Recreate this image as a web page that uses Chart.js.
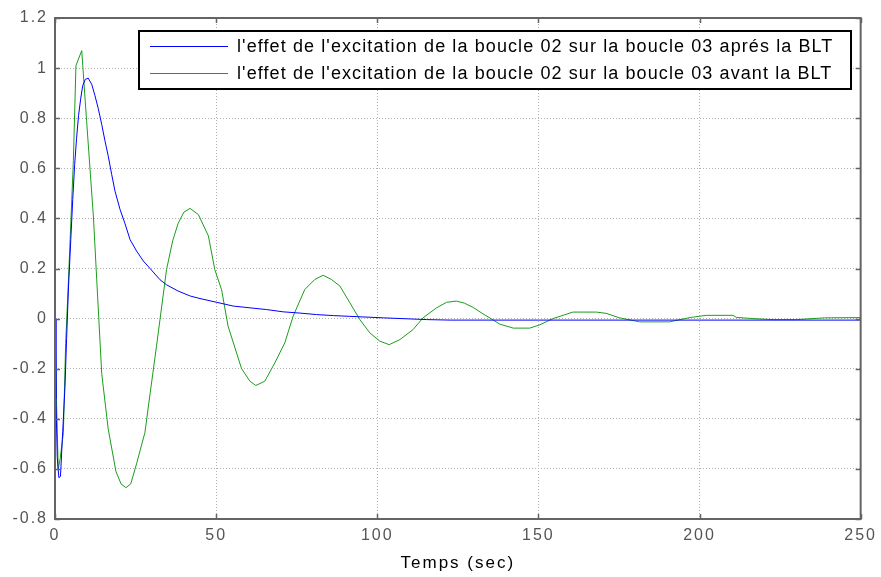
<!DOCTYPE html>
<html>
<head>
<meta charset="utf-8">
<script src="https://cdn.jsdelivr.net/npm/chart.js@4"></script>
<style>
  html, body { margin: 0; padding: 0; background: #fff; }
  #wrap { width: 881px; height: 577px; }
</style>
</head>
<body>
<div id="wrap"><canvas id="resp"></canvas></div>
<script>
// time samples (sec) and responses of loop 03 to the loop 02 excitation
var apresTime = [0, 0.3, 0.7, 1.2, 1.7, 2.4, 3.1, 3.6, 4.2, 4.9, 5.5, 6.1, 6.7, 7.3, 8.0, 8.6, 9.4, 10.3,
  11.4, 12.4, 13.4, 14.5, 15.5, 16.5, 17.6, 18.6, 20.2, 21.7, 23.3, 25.3, 27.4, 29.5, 32.6, 34.6, 38.2,
  42, 45, 50.2, 55.3, 60.5, 65.7, 70.8, 76, 81.2, 86.4, 91.5, 101.9, 115.4, 122.6, 150, 200, 250];
var apresValues = [0, -0.32, -0.555, -0.635, -0.63, -0.45, -0.27, -0.08, 0.13, 0.315, 0.475, 0.615, 0.72, 0.81, 0.88, 0.93, 0.955, 0.96,
  0.935, 0.89, 0.84, 0.775, 0.71, 0.65, 0.575, 0.51, 0.435, 0.38, 0.315, 0.27, 0.23, 0.2, 0.155, 0.135, 0.11,
  0.09, 0.08, 0.065, 0.05, 0.043, 0.036, 0.027, 0.022, 0.016, 0.012, 0.009, 0.003, -0.004, -0.006, -0.006, -0.006, -0.006];

var avantTime = [0, 0.4, 1.0, 1.6, 2.6, 3.3, 4.1, 5.7, 6.5, 8.3, 9.8, 11.9, 14.5, 16.5, 18.9, 20.5, 22, 23.5,
  25.3, 27.9, 29.5, 31.5, 34.6, 36.5, 38.2, 40, 41.9, 44.5, 47.6, 49.6, 51.7, 53.7, 57.9, 60.5, 62.3, 65.1,
  68.2, 71.3, 73.9, 77.5, 80.6, 83.2, 85.8, 88.4, 91.5, 94.6, 97.7, 100.8, 103.7, 107, 111.1, 114.2, 118.4,
  121.5, 124.5, 127, 129.7, 132.8, 135.9, 138, 142.2, 147.3, 150.4, 154.5, 160.7, 168, 171, 175.2, 181.4,
  190.8, 193.9, 197.5, 202.1, 210.4, 211.4, 216.6, 222.8, 230, 238.8, 250];
var avantValues = [0, -0.3, -0.6, -0.56, -0.455, -0.1, 0.13, 0.63, 1.01, 1.07, 0.79, 0.41, -0.22, -0.44, -0.61, -0.66, -0.675, -0.66,
  -0.58, -0.455, -0.30, -0.11, 0.195, 0.31, 0.38, 0.425, 0.44, 0.415, 0.33, 0.195, 0.115, -0.03, -0.2, -0.25, -0.267, -0.25,
  -0.177, -0.097, 0.01, 0.116, 0.156, 0.173, 0.156, 0.13, 0.063, -0.004, -0.057, -0.09, -0.104, -0.084, -0.044, 0.003, 0.043,
  0.065, 0.07, 0.062, 0.045, 0.019, -0.005, -0.022, -0.038, -0.038, -0.025, 0, 0.026, 0.026, 0.021, 0.003, -0.013,
  -0.013, -0.004, 0.005, 0.013, 0.013, 0.005, 0, -0.004, -0.004, 0.003, 0.004];

var seriesLabels = [
  "l'effet de l'excitation de la boucle 02 sur la boucle 03 aprés la BLT",
  "l'effet de l'excitation de la boucle 02 sur la boucle 03 avant la BLT"
];
var xTicks = [0, 50, 100, 150, 200, 250];
var yMin = -0.8, yMax = 1.2, yStep = 0.2;

function pairs(xs, ys) {
  return xs.map(function (x, i) { return { x: x, y: ys[i] }; });
}

var FONT = 'Liberation Sans, Arial, sans-serif';

// wide-set lettering for the axis texts
var spacing = {
  id: 'spacing',
  beforeDraw: function (chart) { chart.ctx.letterSpacing = '2px'; }
};

// axes box, inward tick marks and the boxed legend in the upper right
var frame = {
  id: 'frame',
  afterDatasetsDraw: function (chart) {
    var ctx = chart.ctx, a = chart.chartArea;
    var xs = chart.scales.x, ys = chart.scales.y;
    ctx.save();
    ctx.strokeStyle = '#646464';
    ctx.lineWidth = 1.5;
    ctx.beginPath();
    xTicks.forEach(function (t) {
      var px = Math.round(xs.getPixelForValue(t)) + 0.5;
      ctx.moveTo(px, a.bottom); ctx.lineTo(px, a.bottom - 5);
      ctx.moveTo(px, a.top); ctx.lineTo(px, a.top + 5);
    });
    for (var v = yMin; v <= yMax + 1e-9; v += yStep) {
      var py = Math.round(ys.getPixelForValue(v)) + 0.5;
      ctx.moveTo(a.left, py); ctx.lineTo(a.left + 5, py);
      ctx.moveTo(a.right, py); ctx.lineTo(a.right - 5, py);
    }
    ctx.stroke();
    ctx.lineWidth = 2;
    ctx.strokeRect(a.left, a.top, a.right - a.left, a.bottom - a.top);

    // legend
    var bx = 139, by = 31, bw = 712, bh = 58;
    ctx.fillStyle = '#fff';
    ctx.fillRect(bx, by, bw, bh);
    ctx.strokeStyle = '#000';
    ctx.lineWidth = 2;
    ctx.strokeRect(bx, by, bw, bh);
    ctx.font = '18px ' + FONT;
    ctx.letterSpacing = '1.1px';
    ctx.textBaseline = 'middle';
    chart.data.datasets.forEach(function (ds, i) {
      var ry = by + 15 + i * 27;
      ctx.strokeStyle = ds.borderColor;
      ctx.lineWidth = 1;
      ctx.beginPath();
      ctx.moveTo(150, ry + 0.5); ctx.lineTo(228, ry + 0.5);
      ctx.stroke();
      ctx.fillStyle = '#000';
      ctx.fillText(ds.label, 237, ry + 1);
    });
    ctx.restore();
  }
};

new Chart(document.getElementById('resp'), {
  type: 'line',
  data: {
    datasets: [{
      label: seriesLabels[0],
      data: pairs(apresTime, apresValues),
      borderColor: '#0000ff',
      borderWidth: 1,
      pointRadius: 0,
      tension: 0
    }, {
      label: seriesLabels[1],
      data: pairs(avantTime, avantValues),
      borderColor: '#1a9e1a',
      borderWidth: 1,
      pointRadius: 0,
      tension: 0
    }]
  },
  options: {
    responsive: true,
    maintainAspectRatio: false,
    animation: false,
    layout: { padding: { top: 18, right: 20, left: 0, bottom: 0 } },
    plugins: { legend: { display: false }, tooltip: { enabled: false } },
    scales: {
      x: {
        type: 'linear',
        min: 0, max: 250,
        afterBuildTicks: function (s) { s.ticks = xTicks.map(function (v) { return { value: v }; }); },
        afterFit: function (s) { s.height = 58; },
        grid: { color: '#b0b0b0', drawTicks: false },
        border: { display: false, dash: [1, 2] },
        ticks: { color: '#555', font: { family: FONT, size: 16 }, padding: 7, maxRotation: 0 },
        title: { display: true, text: 'Temps (sec)', color: '#000', font: { family: FONT, size: 17 }, padding: { top: 0, bottom: 3 } }
      },
      y: {
        min: yMin, max: yMax,
        afterFit: function (s) { s.width = 55; },
        grid: { color: '#b0b0b0', drawTicks: false },
        border: { display: false, dash: [1, 2] },
        ticks: {
          stepSize: yStep,
          color: '#555',
          font: { family: FONT, size: 16 },
          padding: 7,
          callback: function (v) { return String(parseFloat(v.toFixed(1))); }
        }
      }
    }
  },
  plugins: [spacing, frame]
});
</script>
</body>
</html>
